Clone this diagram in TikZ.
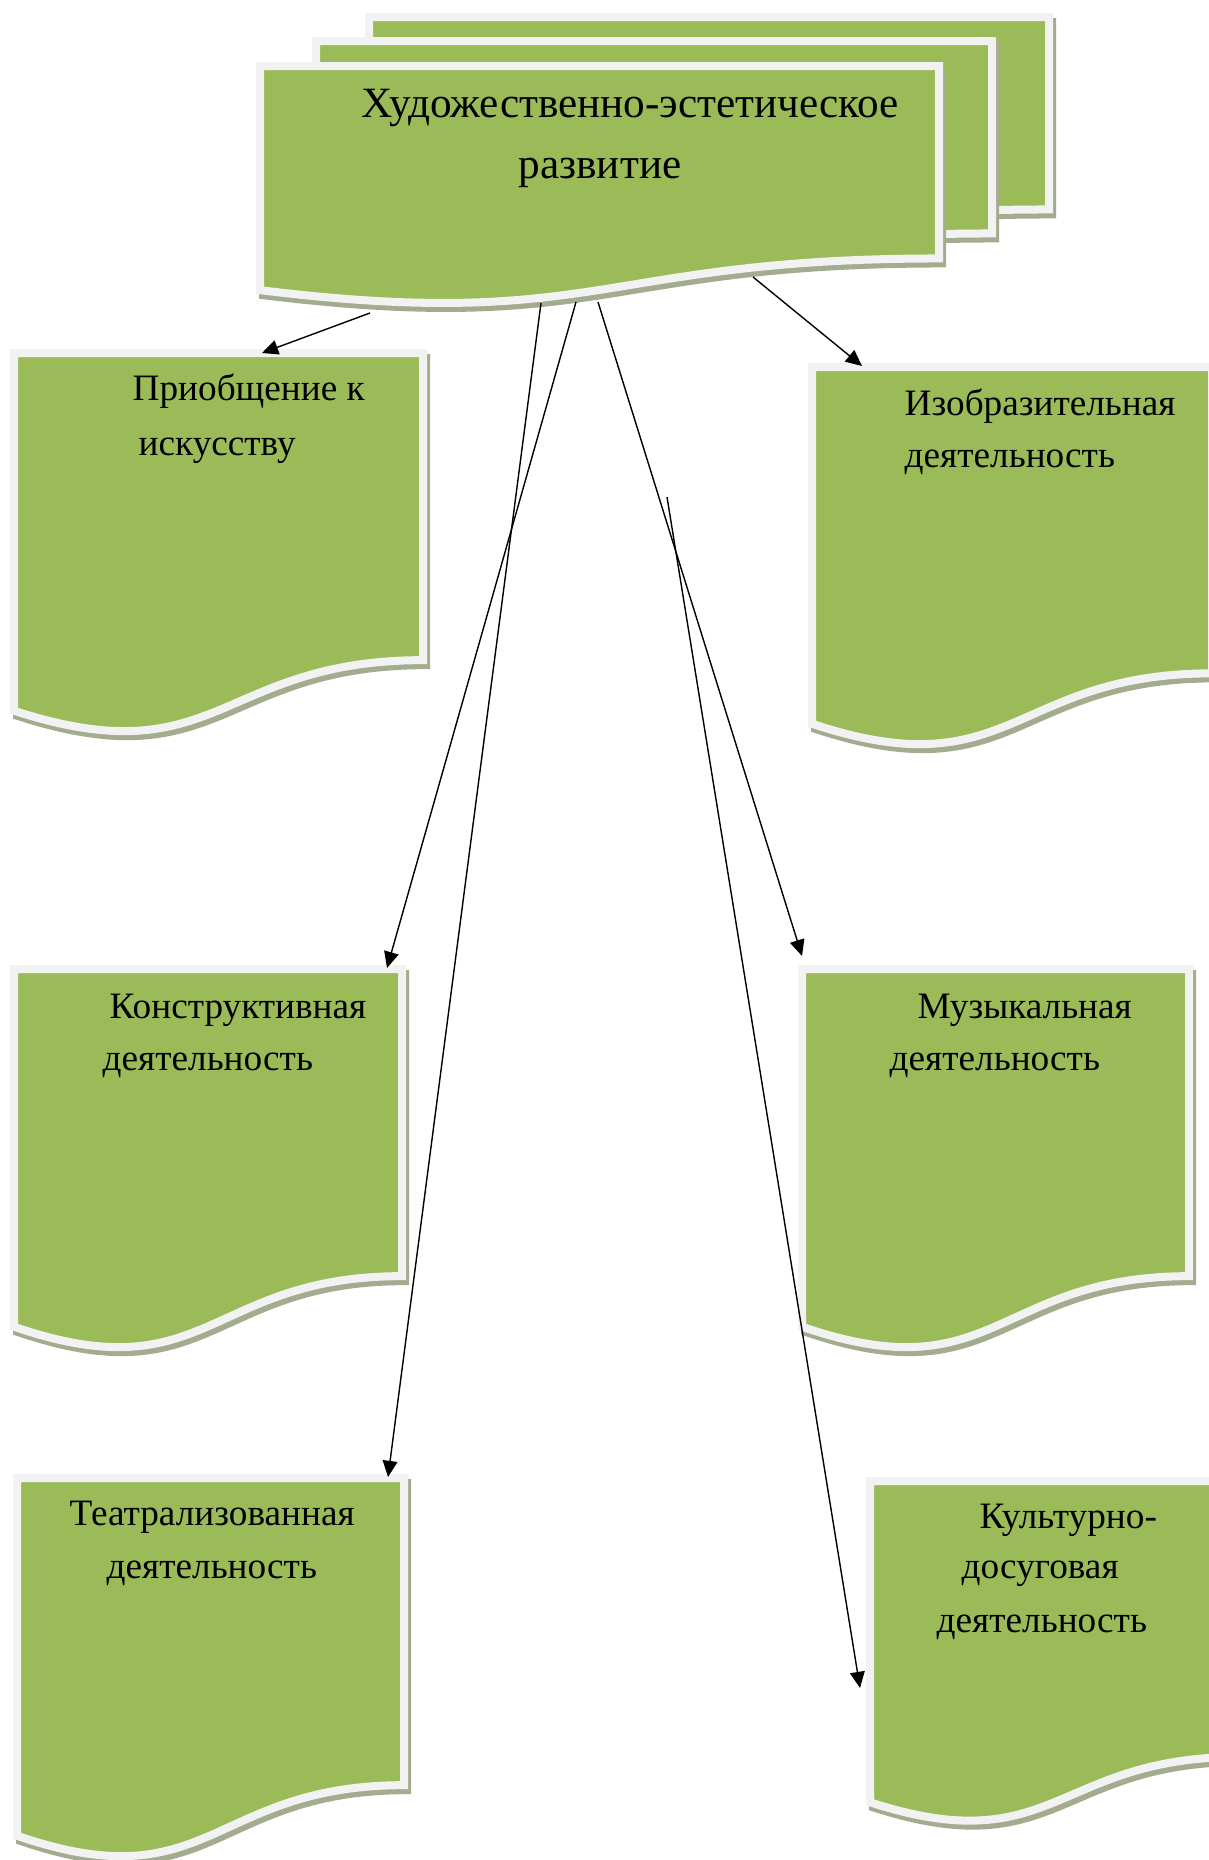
\documentclass[tikz,border=0pt]{standalone}
\usepackage{fontspec}
\setmainfont{Liberation Serif}
\usetikzlibrary{arrows.meta}
\definecolor{docgreen}{HTML}{9BBB59}
\definecolor{docborder}{HTML}{F2F2F2}
\definecolor{docshadow}{HTML}{A4AC8F}
\tikzset{
  boxfill/.style={fill=docgreen, draw=docborder, line width=0.8mm, line join=miter},
  boxshadow/.style={fill=docshadow, draw=docshadow, line width=0.8mm, line join=miter},
  conn/.style={draw=black, line width=0.4pt, -{Triangle[length=4.6pt,width=4.2pt]}},
  lbl/.style={anchor=base west, inner sep=0pt, font=\fontsize{10.6pt}{12pt}\selectfont},
  ttl/.style={anchor=base west, inner sep=0pt, font=\fontsize{12.3pt}{14pt}\selectfont}
}
\newcommand\docshape[4]{%
  \begin{scope}[shift={(#1+3,#2+5)}, xscale=#3, yscale=#4]
    \path[boxshadow] (0,0) -- (1,0) -- (1,0.802) .. controls (0.5,0.802) and (0.5,1.1075) .. (0,0.934) -- cycle;
  \end{scope}
  \begin{scope}[shift={(#1,#2)}, xscale=#3, yscale=#4]
    \path[boxfill] (0,0) -- (1,0) -- (1,0.802) .. controls (0.5,0.802) and (0.5,1.1075) .. (0,0.934) -- cycle;
  \end{scope}}
\begin{document}
\begin{tikzpicture}[x=0.1mm, y=-0.1mm]
  \useasboundingbox (0,0) rectangle (1209,1860);
  \clip (0,0) rectangle (1209,1860);
  \fill[white] (0,0) rectangle (1209,1860);

  % main stacked shape
  \docshape{369}{17}{680}{240}
  \docshape{316}{41}{676}{240}
  \docshape{260}{66}{679}{240}
  \node[ttl] (title1) at (361,117) {Художественно-эстетическое};
  \node[ttl] (title2) at (518,178) {развитие};

  % child shapes
  \docshape{14}{353}{409}{383}
  \node[lbl] (t1a) at (132,400) {Приобщение к};
  \node[lbl] (t1b) at (138,455) {искусству};

  \docshape{812}{367}{400}{382}
  \node[lbl] (t2a) at (904,415) {Изобразительная};
  \node[lbl] (t2b) at (904,467) {деятельность};

  \docshape{14}{969}{388}{383}
  \node[lbl] (t3a) at (109,1018) {Конструктивная};
  \node[lbl] (t3b) at (102,1070) {деятельность};

  \docshape{802}{969}{387}{383}
  \node[lbl] (t4a) at (917,1018) {Музыкальная};
  \node[lbl] (t4b) at (889,1070) {деятельность};

  \docshape{17}{1478}{387}{383}
  \node[lbl] (t5a) at (69,1525) {Театрализованная};
  \node[lbl] (t5b) at (106,1578) {деятельность};

  \docshape{870}{1481}{370}{344}
  \node[lbl] (t6a) at (979,1528) {Культурно-};
  \node[lbl] (t6b) at (961,1578) {досуговая};
  \node[lbl] (t6c) at (936,1632) {деятельность};

  % connector end points
  \coordinate (m1) at (370,313);  \coordinate (p1) at (262,353);
  \coordinate (m2) at (753,277);  \coordinate (p2) at (862,366);
  \coordinate (m3) at (576,302);  \coordinate (p3) at (387,968);
  \coordinate (m4) at (598,302);  \coordinate (p4) at (802,956);
  \coordinate (m5) at (541,303);  \coordinate (p5) at (388,1477);
  \coordinate (m6) at (667,497);  \coordinate (p6) at (860,1688);

  \draw[conn] (m1) -- (p1);
  \draw[conn] (m2) -- (p2);
  \draw[conn] (m3) -- (p3);
  \draw[conn] (m4) -- (p4);
  \draw[conn] (m5) -- (p5);
  \draw[conn] (m6) -- (p6);
\end{tikzpicture}
\end{document}
